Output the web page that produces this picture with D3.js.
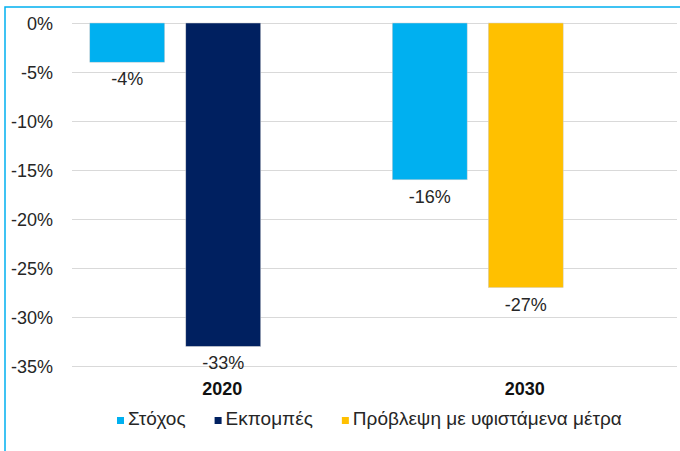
<!DOCTYPE html>
<html>
<head>
<meta charset="utf-8">
<script src="https://cdn.jsdelivr.net/npm/d3@7"></script>
<style>
    body { margin: 0; background: #fff; }
    svg { display: block; font-family: Arial, "Liberation Sans", sans-serif; }
    .grid line { stroke: #d9d9d9; stroke-width: 1; }
    .tick-label { font-size: 18px; fill: #262626; }
    .bar-label { font-size: 18px; fill: #262626; text-anchor: middle; }
    .category-label { font-size: 18px; font-weight: bold; fill: #111; text-anchor: middle; }
    .legend-text { font-size: 19px; fill: #262626; }
</style>
</head>
<body>
<div id="wrapper"></div>
<script>
const categories = ['2020', '2030']
const seriesNames = ['Στόχος', 'Εκπομπές', 'Πρόβλεψη με υφιστάμενα μέτρα']
const seriesColors = ['#00b0f0', '#002060', '#ffc000']
const targetValues = [-4, -16]
const emissionValues = [-33, null]
const projectionValues = [null, -27]
const yTickValues = [0, -5, -10, -15, -20, -25, -30, -35]

function drawChart() {
    const seriesValues = [targetValues, emissionValues, projectionValues]

    let dimensions = {
        width: 680,
        height: 451,
        margin: {
            top: 23,
            right: 3,
            bottom: 85,
            left: 72
        }
    }
    dimensions.boundedWidth = dimensions.width - dimensions.margin.left - dimensions.margin.right
    dimensions.boundedHeight = dimensions.height - dimensions.margin.top - dimensions.margin.bottom

    const wrapper = d3.select('#wrapper')
        .append('svg')
        .attr('width', dimensions.width)
        .attr('height', dimensions.height)

    // frame around the chart (right and bottom sides fall outside the picture)
    wrapper.append('rect')
        .attr('x', 5)
        .attr('y', 7)
        .attr('width', 800)
        .attr('height', 600)
        .attr('fill', 'none')
        .attr('stroke', '#00b0f0')
        .attr('stroke-width', 1.5)

    const bounds = wrapper.append('g')
        .attr('transform', `translate(${dimensions.margin.left}, ${dimensions.margin.top})`)

    const yScale = d3.scaleLinear()
        .domain([d3.min(yTickValues), 0])
        .range([dimensions.boundedHeight, 0])

    const xScale = d3.scaleBand()
        .domain(categories)
        .range([0, dimensions.boundedWidth])
        .padding(0)

    // each category has three slots, bars fill them left to right
    const slotScale = d3.scaleBand()
        .domain([0, 1, 2])
        .range([0, xScale.bandwidth()])
        .paddingInner(0.22)
        .paddingOuter(0.185)

    const grid = bounds.append('g')
        .attr('class', 'grid')
        .selectAll('line')
        .data(yTickValues)
        .join('line')
        .attr('x1', 0)
        .attr('x2', dimensions.boundedWidth)
        .attr('y1', d => Math.round(yScale(d)) + 0.5)
        .attr('y2', d => Math.round(yScale(d)) + 0.5)

    const tickLabels = bounds.append('g')
        .selectAll('text')
        .data(yTickValues)
        .join('text')
        .attr('class', 'tick-label')
        .attr('x', -19)
        .attr('y', d => yScale(d) + 6.5)
        .style('text-anchor', 'end')
        .text(d => `${d}%`)

    let bars = []
    categories.forEach((category, i) => {
        let slot = 0
        seriesValues.forEach((values, s) => {
            if (values[i] === null) return
            bars.push({ category, series: s, value: values[i], slot })
            slot++
        })
    })

    const barGroup = bounds.append('g')
    barGroup.selectAll('rect')
        .data(bars)
        .join('rect')
        .attr('x', d => xScale(d.category) + slotScale(d.slot))
        .attr('y', yScale(0))
        .attr('width', slotScale.bandwidth())
        .attr('height', d => yScale(d.value) - yScale(0))
        .attr('fill', d => seriesColors[d.series])
        .attr('stroke', '#d0d0d0')
        .attr('stroke-width', 0.5)

    barGroup.selectAll('text')
        .data(bars)
        .join('text')
        .attr('class', 'bar-label')
        .attr('x', d => xScale(d.category) + slotScale(d.slot) + slotScale.bandwidth() / 2)
        .attr('y', d => yScale(d.value) + 23)
        .text(d => `${d.value}%`)

    bounds.append('g')
        .selectAll('text')
        .data(categories)
        .join('text')
        .attr('class', 'category-label')
        .attr('x', d => xScale(d) + xScale.bandwidth() / 2 - 1)
        .attr('y', dimensions.boundedHeight + 29)
        .text(d => d)

    // legend
    const legendGroup = wrapper.append('g')
        .attr('transform', `translate(117, 426)`)

    let legendX = 0
    seriesNames.forEach((name, i) => {
        const item = legendGroup.append('g')
            .attr('transform', `translate(${legendX}, 0)`)
        item.append('rect')
            .attr('x', 0)
            .attr('y', -9)
            .attr('width', 7)
            .attr('height', 7)
            .attr('fill', seriesColors[i])
        const label = item.append('text')
            .attr('class', 'legend-text')
            .attr('x', 11)
            .attr('y', -1)
            .text(name)
        legendX += 11 + label.node().getComputedTextLength() + 29
    })
}

drawChart()
</script>
</body>
</html>
